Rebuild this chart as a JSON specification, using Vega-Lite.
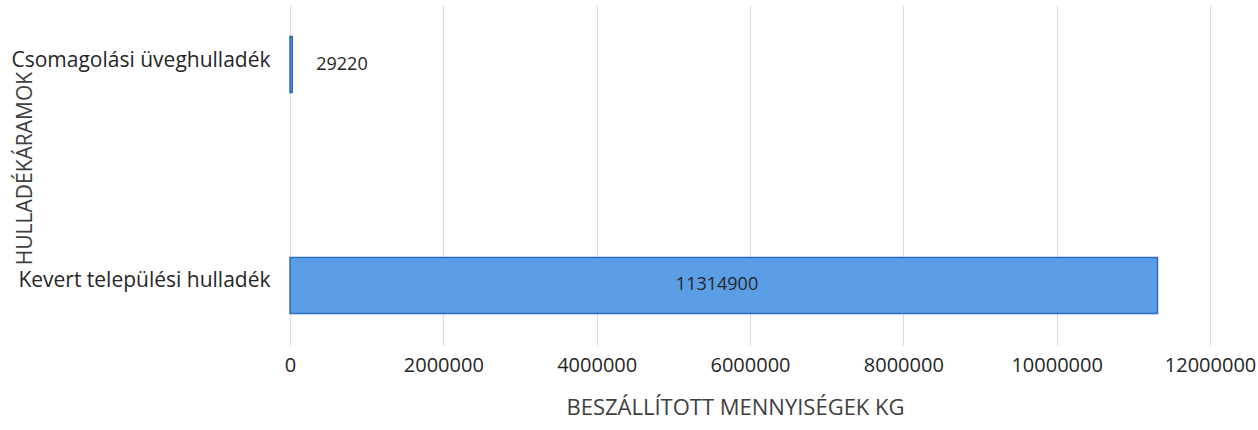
{
  "$schema": "https://vega.github.io/schema/vega-lite/v6.json",
  "width": 920,
  "height": 340,
  "autosize": {"type": "none"},
  "padding": {"left": 290, "top": 5, "right": 48, "bottom": 85},
  "background": "white",
  "config": {"view": {"stroke": null}, "font": "Open Sans"},
  "data": {"values": [
    {"kategoria": "Csomagolási üveghulladék", "kg": 29220},
    {"kategoria": "Kevert települési hulladék", "kg": 11314900}
  ]},
  "encoding": {
    "y": {"field": "kategoria", "type": "nominal", "sort": null,
      "scale": {"paddingInner": 0.747, "paddingOuter": 0.143},
      "axis": {"title": "HULLADÉKÁRAMOK", "titleFontSize": 21, "titleFontWeight": "normal", "titleColor": "#404040",
        "titleX": -265, "titleY": 163, "titleAngle": -90, "titleBaseline": "middle", "titleAlign": "center",
        "labelFontSize": 21, "labelColor": "#262626", "labelPadding": 20, "labelLimit": 300, "labelOffset": -4,
        "domain": false, "ticks": false, "grid": false}},
    "x": {"field": "kg", "type": "quantitative",
      "scale": {"domain": [0, 12000000], "nice": false},
      "axis": {"title": "BESZÁLLÍTOTT MENNYISÉGEK KG", "titleFontSize": 22, "titleFontWeight": "normal", "titleColor": "#404040",
        "titlePadding": 22, "titleX": 445, "titleAlign": "center",
        "values": [0, 2000000, 4000000, 6000000, 8000000, 10000000, 12000000],
        "format": "d", "labelFontSize": 20, "labelColor": "#262626", "labelPadding": 10,
        "labelFlush": false, "labelOverlap": false, "labelBound": false,
        "domain": false, "ticks": false, "grid": true, "gridColor": "#dcdcdc", "gridWidth": 1.2}}
  },
  "layer": [
    {"mark": {"type": "bar", "color": "#5b9ee6", "stroke": "#2b6cc4", "strokeWidth": 1.5}},
    {"transform": [{"filter": "datum.kg < 1000000"}],
      "mark": {"type": "text", "align": "left", "dx": 24, "fontSize": 18, "color": "#262626"},
      "encoding": {"text": {"field": "kg", "type": "quantitative", "format": "d"}}},
    {"transform": [{"filter": "datum.kg >= 1000000"}],
      "mark": {"type": "text", "align": "center", "fontSize": 18, "color": "#262626"},
      "encoding": {"x": {"datum": 5570000}, "text": {"field": "kg", "type": "quantitative", "format": "d"}}}
  ]
}
